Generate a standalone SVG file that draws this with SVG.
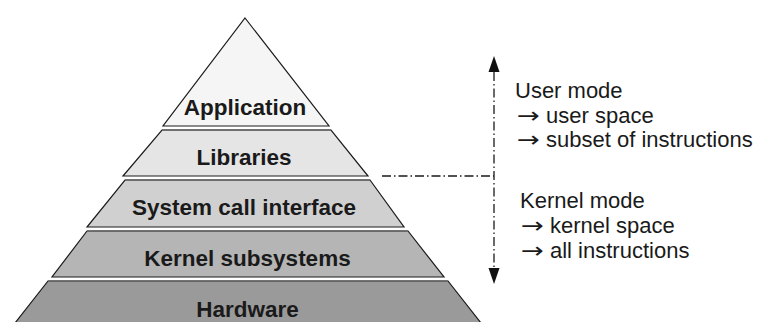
<svg xmlns="http://www.w3.org/2000/svg" width="762" height="322" viewBox="0 0 762 322">
<defs>
<style>
.layer{stroke:#1a1a1a;stroke-width:1.2;stroke-linejoin:miter}
.topline{stroke:#6a6a6a;stroke-width:1.6}
.lbl{font-family:"Liberation Sans",Arial,sans-serif;font-weight:bold;font-size:22.5px;fill:#1a1a1a;text-anchor:middle}
.note{font-family:"Liberation Sans",Arial,"DejaVu Sans",sans-serif;font-size:22px;fill:#1a1a1a}
.arr{font-family:"DejaVu Sans",sans-serif;font-size:22px}
.dd{stroke:#1a1a1a;stroke-width:1.3;fill:none;stroke-dasharray:9 3 1.5 3}
</style>
</defs>
<rect width="762" height="322" fill="#ffffff"/>
<g id="application">
<polygon class="layer" points="245,18 329,126 163,126" fill="#f5f5f5"/>
<text class="lbl" x="245" y="115">Application</text>
</g>
<g id="libraries">
<polygon class="layer" points="162,130 331,130 368,176 123,176" fill="#e5e5e5"/>
<line class="topline" x1="162" y1="130" x2="331" y2="130"/>
<text class="lbl" x="244" y="165">Libraries</text>
</g>
<g id="syscall">
<polygon class="layer" points="125,180 370,180 404,227 87,227" fill="#d0d0d0"/>
<line class="topline" x1="125" y1="180" x2="370" y2="180"/>
<text class="lbl" x="244" y="215">System call interface</text>
</g>
<g id="kernel">
<polygon class="layer" points="87,231 408,231 444,277 52,277" fill="#b5b5b5"/>
<line class="topline" x1="87" y1="231" x2="408" y2="231"/>
<text class="lbl" x="247.5" y="266">Kernel subsystems</text>
</g>
<g id="hardware">
<polygon class="layer" points="48,281 448,281 481,323 15,323" fill="#9a9a9a"/>
<line class="topline" x1="48" y1="281" x2="448" y2="281"/>
<text class="lbl" x="247.5" y="317">Hardware</text>
</g>
<g id="connectors">
<line class="dd" x1="494" y1="72" x2="494" y2="268"/>
<line class="dd" x1="382" y1="176" x2="494" y2="176"/>
<polygon points="494,56 488.5,72 499.5,72" fill="#111"/>
<polygon points="494,284 488.5,268 499.5,268" fill="#111"/>
</g>
<g id="user-mode">
<text class="note" x="515" y="98">User mode</text>
<text class="note" y="123"><tspan class="arr" x="517" textLength="23" lengthAdjust="spacingAndGlyphs">→</tspan><tspan x="546">user space</tspan></text>
<text class="note" y="147"><tspan class="arr" x="517" textLength="23" lengthAdjust="spacingAndGlyphs">→</tspan><tspan x="546">subset of instructions</tspan></text>
</g>
<g id="kernel-mode">
<text class="note" x="520" y="208">Kernel mode</text>
<text class="note" y="233"><tspan class="arr" x="521" textLength="23" lengthAdjust="spacingAndGlyphs">→</tspan><tspan x="550">kernel space</tspan></text>
<text class="note" y="258"><tspan class="arr" x="521" textLength="23" lengthAdjust="spacingAndGlyphs">→</tspan><tspan x="550">all instructions</tspan></text>
</g>
</svg>
